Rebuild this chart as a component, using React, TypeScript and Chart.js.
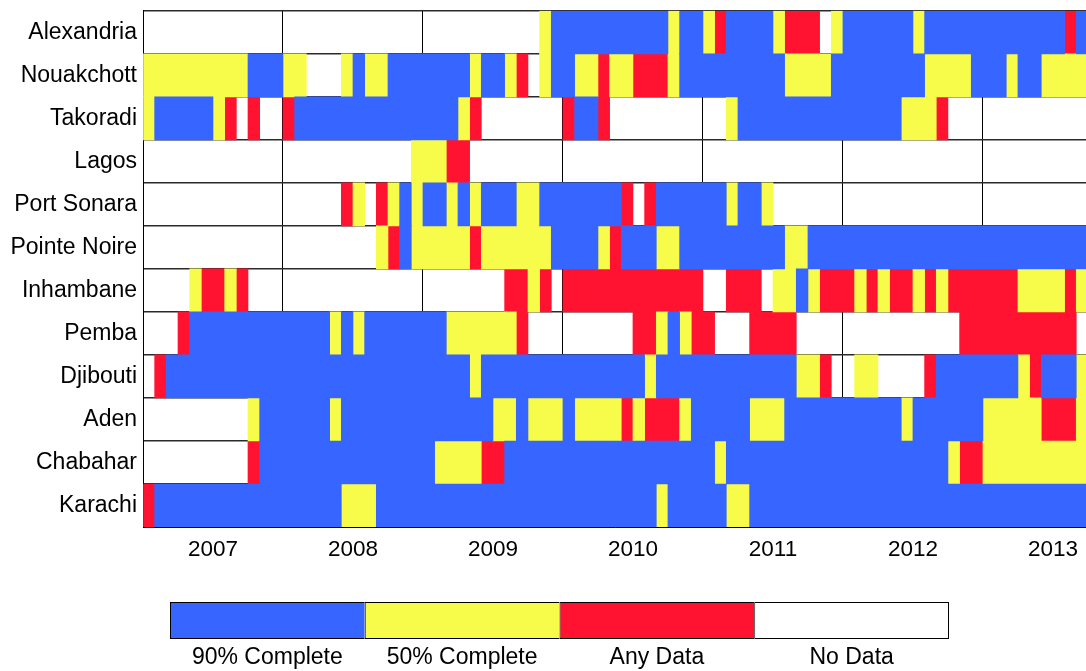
import React, { useEffect, useRef } from "react";
import { Chart, registerables } from "chart.js";

Chart.register(...registerables);

// ---------- data ----------
const stations = [
  "Alexandria",
  "Nouakchott",
  "Takoradi",
  "Lagos",
  "Port Sonara",
  "Pointe Noire",
  "Inhambane",
  "Pemba",
  "Djibouti",
  "Aden",
  "Chabahar",
  "Karachi",
];

const yearLabels = ["2007", "2008", "2009", "2010", "2011", "2012", "2013"];

// status codes: B = 90% complete, Y = 50% complete, R = any data, W = no data
const statusCodes = ["B", "Y", "R", "W"];
const statusLabels = ["90% Complete", "50% Complete", "Any Data", "No Data"];
const statusColors = ["#3765FF", "#F7FB4A", "#FF1330", "#FFFFFF"];

// months visible on the x axis (Jan 2007 = 0)
const visibleMonths = 80.92;

// monthly status, one string per year (Jan..Dec), 2013 visible through Sep
const alexandria = ["WWWWWWWWWWWW", "WWWWWWWWWWWW", "WWWWWWWWWWYB", "BBBBBBBBBYBB", "YRBBBBYRRRWY", "BBBBBBYBBBBB", "BBBBBBBRB"];
const nouakchott = ["YYYYYYYYYBBB", "YYWWWYBYYBBB", "BBBBYBBYRWYB", "BYYRYYRRRYBB", "BBBBBBBYYYYB", "BBBBBBBYYYYB", "BBYBBYYYY"];
const takoradi = ["YBBBBBYRWRWW", "RBBBBBBBBBBB", "BBBYRWWWWWWW", "RBBRWWWWWWWW", "WWYBBBBBBBBB", "BBBBBYYYRWWW", "WWWWWWWWW"];
const lagos = ["WWWWWWWWWWWW", "WWWWWWWWWWWY", "YYRRWWWWWWWW", "WWWWWWWWWWWW", "WWWWWWWWWWWW", "WWWWWWWWWWWW", "WWWWWWWWW"];
const portSonara = ["WWWWWWWWWWWW", "WWWWWRYWRYBY", "BBYBYBBBYYBB", "BBBBBRWRBBBB", "BBYBBYWWWWWW", "WWWWWWWWWWWW", "WWWWWWWWW"];
const pointeNoire = ["WWWWWWWWWWWW", "WWWWWWWWYRBY", "YYYYRYYYYYYB", "BBBYRBBBYYBB", "BBBBBBBYYBBB", "BBBBBBBBBBBB", "BBBBBBBBB"];
const inhambane = ["WWWWYRRYRWWW", "WWWWWWWWWWWW", "WWWWWWWRRYRW", "RRRRRRRRRRRR", "WWRRRWYYBYRR", "RYRYRRYRYRRR", "RRRYYYYRY"];
const pemba = ["WWWRBBBBBBBB", "BBBBYBYBBBBB", "BBYYYYYYRWWW", "WWWWWWRRYBYR", "RWWWRRRRWWWW", "WWWWWWWWWWRR", "RRRRRRRRW"];
const djibouti = ["WRBBBBBBBBBB", "BBBBBBBBBBBB", "BBBBYBBBBBBB", "BBBBBBBYBBBB", "BBBBBBBBYYRW", "WYYWWWWRBBBB", "BBBYRBBBY"];
const aden = ["WWWWWWWWWYBB", "BBBBYBBBBBBB", "BBBBBBYYBYYY", "BYYYYRYRRRYB", "BBBBYYYBBBBB", "BBBBBYBBBBBB", "YYYYYRRRY"];
const chabahar = ["WWWWWWWWWRBB", "BBBBBBBBBBBB", "BYYYYRRBBBBB", "BBBBBBBBBBBB", "BYBBBBBBBBBB", "BBBBBBBBBYRR", "YYYYYYYYY"];
const karachi = ["RBBBBBBBBBBB", "BBBBBYYYBBBB", "BBBBBBBBBBBB", "BBBBBBBBYBBB", "BBYYBBBBBBBB", "BBBBBBBBBBBB", "BBBBBBBBB"];

const stationStatus = [
  alexandria,
  nouakchott,
  takoradi,
  lagos,
  portSonara,
  pointeNoire,
  inhambane,
  pemba,
  djibouti,
  aden,
  chabahar,
  karachi,
];

const FONT_FAMILY = "'Liberation Sans', Arial, Helvetica, sans-serif";

function buildDatasets() {
  const datasets = statusCodes.slice(0, 3).map((code, k) => ({
    label: statusLabels[k],
    data: [] as { x: [number, number]; y: string }[],
    backgroundColor: statusColors[k],
    borderWidth: 0,
    barPercentage: 1,
    categoryPercentage: 1,
    grouped: false,
  }));
  stationStatus.forEach((years, i) => {
    const seq = years.join("");
    let start = 0;
    for (let m = 1; m <= seq.length; m++) {
      if (m === seq.length || seq[m] !== seq[start]) {
        const k = statusCodes.indexOf(seq[start]);
        if (k >= 0 && k < 3) {
          datasets[k].data.push({ x: [start, m], y: stations[i] });
        }
        start = m;
      }
    }
  });
  return datasets;
}

export default function App() {
  const mainRef = useRef<HTMLCanvasElement>(null);
  const legendRef = useRef<HTMLCanvasElement>(null);

  useEffect(() => {
    Chart.defaults.color = "#000";

    const main = new Chart(mainRef.current as HTMLCanvasElement, {
      type: "bar",
      data: { labels: stations, datasets: buildDatasets() as any },
      options: {
        indexAxis: "y",
        animation: false,
        responsive: false,
        events: [],
        layout: { padding: { top: 0, left: 0, right: 0, bottom: 0 } },
        plugins: { legend: { display: false }, tooltip: { enabled: false } },
        scales: {
          x: {
            type: "linear",
            min: 0,
            max: visibleMonths,
            position: "bottom",
            weight: 0,
            z: 1,
            afterBuildTicks: (s: any) => {
              s.ticks = yearLabels.map((_, j) => ({ value: j * 12 }));
            },
            grid: { color: "#000", lineWidth: 1, drawTicks: false },
            border: { color: "#000", width: 1 },
            ticks: { display: false },
          },
          xYear: {
            type: "linear",
            axis: "x",
            min: 0,
            max: visibleMonths,
            position: "bottom",
            weight: 1,
            afterBuildTicks: (s: any) => {
              s.ticks = yearLabels.map((_, j) => ({ value: j * 12 + 6 }));
            },
            afterFit: (s: any) => {
              s.height = 53;
            },
            grid: { display: false, drawTicks: false },
            border: { display: false },
            ticks: {
              padding: 9,
              color: "#000",
              autoSkip: false,
              maxRotation: 0,
              font: { family: FONT_FAMILY, size: 22.5 },
              callback: (v: any) => yearLabels[Math.round((Number(v) - 6) / 12)],
            },
          },
          y: {
            type: "category",
            position: "left",
            z: 1,
            afterFit: (s: any) => {
              s.width = 143;
            },
            grid: { color: "#2a2a2a", lineWidth: 1.5, drawTicks: false, offset: true },
            border: { color: "#000", width: 1 },
            ticks: {
              padding: 6,
              color: "#000",
              autoSkip: false,
              font: { family: FONT_FAMILY, size: 23 },
            },
          },
        } as any,
      },
    });

    const legend = new Chart(legendRef.current as HTMLCanvasElement, {
      type: "bar",
      data: {
        labels: statusLabels,
        datasets: [
          {
            data: statusLabels.map(() => 1),
            backgroundColor: statusColors,
            borderColor: "#000",
            borderWidth: (ctx: any) => ({
              top: 1,
              bottom: 1,
              left: 1,
              right: ctx.dataIndex === statusLabels.length - 1 ? 1 : 0,
            }),
            borderSkipped: false,
            barPercentage: 1,
            categoryPercentage: 1,
            inflateAmount: 0,
          } as any,
        ],
      },
      options: {
        animation: false,
        responsive: false,
        events: [],
        layout: { padding: { top: 12, left: 170, right: 137, bottom: 0 } },
        plugins: { legend: { display: false }, tooltip: { enabled: false } },
        scales: {
          x: {
            afterFit: (s: any) => {
              s.height = 32;
            },
            grid: { display: false, drawTicks: false },
            border: { display: false },
            ticks: {
              padding: 5,
              color: "#000",
              autoSkip: false,
              maxRotation: 0,
              font: { family: FONT_FAMILY, size: 23 },
            },
          },
          y: { display: false, min: 0, max: 1 },
        } as any,
      },
    });

    return () => {
      main.destroy();
      legend.destroy();
    };
  }, []);

  return (
    <div
      style={{
        position: "absolute",
        left: 0,
        top: 0,
        width: 1086,
        height: 671,
        overflow: "hidden",
        background: "#fff",
      }}
    >
      <canvas
        ref={mainRef}
        width={1087}
        height={589}
        style={{ position: "absolute", left: 0, top: -9, display: "block" }}
      />
      <canvas
        ref={legendRef}
        width={1086}
        height={81}
        style={{ position: "absolute", left: 0, top: 590, display: "block" }}
      />
    </div>
  );
}
